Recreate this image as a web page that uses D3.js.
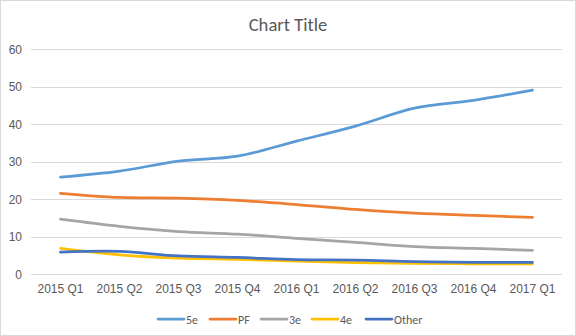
<!DOCTYPE html>
<html><head><meta charset="utf-8">
<script src="https://cdn.jsdelivr.net/npm/d3@7"></script>
<style>body{margin:0;background:#fff;} svg{display:block;font-family:Calibri,Carlito,"Liberation Sans",Arial,sans-serif;}</style>
</head><body><svg id="c" width="576" height="336"></svg>
<script>
const categories = ["2015 Q1","2015 Q2","2015 Q3","2015 Q4","2016 Q1","2016 Q2","2016 Q3","2016 Q4","2017 Q1"];
const s5e   = [25.9, 27.5, 30.2, 31.5, 35.5, 39.5, 44.3, 46.4, 49.1];
const sPF   = [21.6, 20.5, 20.3, 19.7, 18.6, 17.3, 16.3, 15.7, 15.2];
const s3e   = [14.7, 12.8, 11.4, 10.7, 9.6, 8.5, 7.4, 6.9, 6.4];
const s4e   = [6.9, 5.2, 4.3, 4.0, 3.5, 3.1, 2.9, 2.8, 2.8];
const sOther= [5.9, 6.1, 4.9, 4.5, 3.9, 3.8, 3.4, 3.2, 3.2];
const seriesNames = ["5e","PF","3e","4e","Other"];
const seriesColors = ["#5B9BD5","#ED7D31","#A5A5A5","#FFC000","#4472C4"];
const yTicks = [0,10,20,30,40,50,60];
const series = [s5e,sPF,s3e,s4e,sOther].map((v,i)=>({name:seriesNames[i],color:seriesColors[i],values:v}));

const svg = d3.select("#c");
svg.append("rect").attr("x",0.5).attr("y",0.5).attr("width",575).attr("height",335)
  .attr("fill","#fff").attr("stroke","#D9D9D9");

const L=31, R=562, T=49.3, B=274.3;
const x = d3.scaleBand().domain(categories).range([L,R]);
const y = d3.scaleLinear().domain([0,60]).range([B,T]);

svg.append("text").attr("x",288).attr("y",31).attr("text-anchor","middle")
  .attr("font-size",18.6).attr("fill","#595959").text("Chart Title");

// grid
svg.append("g").selectAll("line").data(yTicks).join("line")
  .attr("x1",L).attr("x2",R).attr("y1",d=>Math.round(y(d))+0.5).attr("y2",d=>Math.round(y(d))+0.5)
  .attr("stroke","#D9D9D9").attr("stroke-width",1);

// y axis labels
const ya = svg.append("g").attr("transform",`translate(${L},0)`)
  .call(d3.axisLeft(y).tickValues(yTicks).tickSize(0).tickPadding(9));
ya.select(".domain").remove();
ya.selectAll("text").attr("font-size",12).attr("fill","#595959").attr("font-family",null);

// x axis labels
const xa = svg.append("g").attr("transform",`translate(0,${B})`)
  .call(d3.axisBottom(x).tickSize(0).tickPadding(10));
xa.select(".domain").remove();
xa.selectAll("text").attr("font-size",12).attr("fill","#595959").attr("font-family",null);

const line = d3.line().x((d,i)=>x(categories[i])+x.bandwidth()/2).y(d=>y(d)).curve(d3.curveCatmullRom.alpha(0.5));
svg.append("g").selectAll("path").data(series).join("path")
  .attr("d",d=>line(d.values)).attr("fill","none").attr("stroke",d=>d.color)
  .attr("stroke-width",2.75).attr("stroke-linecap","round").attr("stroke-linejoin","round");

// legend
const legX = [158,210,261,312,366];
const lg = svg.append("g").selectAll("g").data(series).join("g")
  .attr("transform",(d,i)=>`translate(${legX[i]},319)`);
lg.append("line").attr("x1",0).attr("x2",26).attr("stroke",d=>d.color).attr("stroke-width",2.75).attr("stroke-linecap","round");
lg.append("text").attr("x",28).attr("y",4.5).attr("font-size",12).attr("fill","#595959").text(d=>d.name);
</script></body></html>
